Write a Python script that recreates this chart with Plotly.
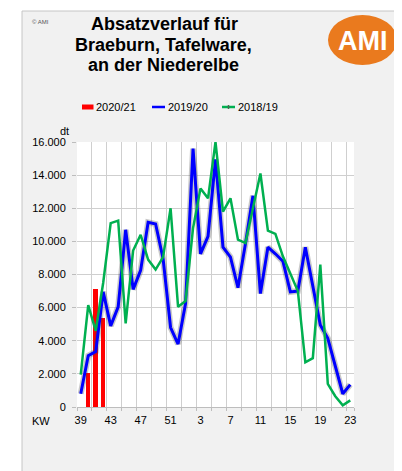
import plotly.graph_objects as go

weeks = [39, 40, 41, 42, 43, 44, 45, 46, 47, 48, 49, 50, 51, 52,
         1, 2, 3, 4, 5, 6, 7, 8, 9, 10, 11, 12, 13, 14, 15, 16, 17, 18, 19, 20, 21, 22, 23]

s2020_21 = [None, 2050, 7100, 5400] + [None] * 33

s2019_20 = [800, 3100, 3350, 6950, 4900, 6050, 10700, 7100, 8250, 11150, 11050, 8950, 4800, 3800,
            6250, 15600, 9250, 10300, 14950, 9650, 9050, 7200, 9850, 12750, 6850, 9650, 9250, 8800,
            6950, 7000, 9650, 7300, 4950, 4150, 2500, 800, 1350]

s2018_19 = [1950, 6150, 4600, 7500, 11100, 11250, 5050, 9450, 10400, 8900, 8300, 9050, 12000, 6050,
            6400, 10800, 13200, 12600, 16000, 11800, 12600, 10100, 9900, 12000, 14100, 10650, 10450, 9100,
            8100, 7000, 2700, 2950, 8600, 1400, 650, 100, 400]

series_names = ["2020/21", "2019/20", "2018/19"]
tick_weeks = [39, 43, 47, 51, 3, 7, 11, 15, 19, 23]

# page has an 8px body margin: figure pixel = page pixel - 8
OFF = 8
W, H = 394, 463
L, R, T, B = 69, 48, 134, 64
PW, PH = W - L - R, H - T - B

def px(x):
    return (x - OFF - L) / PW

def py(y):
    return (H - B - (y - OFF)) / PH

idx = list(range(len(weeks)))
tickvals = [0, 4, 8, 12, 16, 20, 24, 28, 32, 36]
ticktext = [str(weeks[i]) for i in tickvals]

RED, BLUE, GREEN = "#FF0000", "#0000FF", "#00B050"
FONT = "Liberation Sans, Arial, sans-serif"

fig = go.Figure()
fig.add_trace(go.Bar(x=idx, y=s2020_21, name=series_names[0], marker=dict(color=RED, line=dict(width=0)),
                     width=0.6, showlegend=False))
fig.add_trace(go.Scatter(x=idx, y=s2019_20, mode="lines", line=dict(color="rgba(60,60,60,0.28)", width=6),
                         showlegend=False, hoverinfo="skip"))
fig.add_trace(go.Scatter(x=idx, y=s2019_20, mode="lines", name=series_names[1],
                         line=dict(color=BLUE, width=3), showlegend=False))
fig.add_trace(go.Scatter(x=idx, y=s2018_19, mode="lines", name=series_names[2],
                         line=dict(color=GREEN, width=2.5), showlegend=False))

shapes = [
    dict(type="rect", xref="paper", yref="paper", x0=px(22), x1=px(399), y0=py(480), y1=py(11),
         fillcolor="#f1f1f1", line=dict(color="#c6c6c6", width=1), layer="below"),
    dict(type="rect", xref="paper", yref="paper", x0=0, x1=1, y0=0, y1=1,
         fillcolor="white", line=dict(width=0), layer="below"),
    # logo
    dict(type="circle", xref="paper", yref="paper", x0=px(328), x1=px(397), y0=py(65), y1=py(15),
         fillcolor="#EA7A1E", line=dict(width=0)),
    # legend symbols
    dict(type="rect", xref="paper", yref="paper", x0=px(82), x1=px(93.5), y0=py(109.5), y1=py(104.5),
         fillcolor=RED, line=dict(width=0)),
    dict(type="line", xref="paper", yref="paper", x0=px(152), x1=px(165), y0=py(107), y1=py(107),
         line=dict(color=BLUE, width=2.5)),
    dict(type="line", xref="paper", yref="paper", x0=px(222), x1=px(235), y0=py(107), y1=py(107),
         line=dict(color=GREEN, width=2.5)),
    dict(type="line", xref="paper", yref="paper", x0=px(228.5), x1=px(228.5), y0=py(109), y1=py(105),
         line=dict(color="#4a6a50", width=1.5)),
]

def ann(text, x, y, size, color="black", bold=False, xanchor="center", family=FONT):
    return dict(text=("<b>%s</b>" % text) if bold else text, x=px(x), y=py(y), xref="paper", yref="paper",
                showarrow=False, xanchor=xanchor, yanchor="middle",
                font=dict(size=size, color=color, family=family))

annotations = [
    ann("Absatzverlauf für", 164, 24, 18, bold=True),
    ann("Braeburn, Tafelware,", 163, 45, 18, bold=True),
    ann("an der Niederelbe", 163.5, 65.5, 18, bold=True),
    ann("© AMI", 30, 22, 6, color="#555555", xanchor="left"),
    ann("AMI", 362.5, 41, 27, color="white", bold=True),
    ann(series_names[0], 94, 107.5, 11, xanchor="left"),
    ann(series_names[1], 165.5, 107.5, 11, xanchor="left"),
    ann(series_names[2], 235.5, 107.5, 11, xanchor="left"),
    ann("dt", 64, 131, 11),
    ann("KW", 41, 421, 11),
]

grid_color = "#cfcfcf"
minor_vals = [-0.5 + 2 * k for k in range(19)] + [36.5]

fig.update_layout(
    width=W, height=H,
    margin=dict(l=L, r=R, t=T, b=B, pad=0),
    paper_bgcolor="white", plot_bgcolor="white",
    font=dict(family=FONT, size=11, color="black"),
    separators=",.",
    bargap=0,
    shapes=shapes,
    annotations=annotations,
    xaxis=dict(range=[-0.5, 36.5], tickmode="array", tickvals=tickvals, ticktext=ticktext,
               showgrid=False, zeroline=False, ticks="", ticklabelstandoff=3,
               showline=True, linecolor="#bdbdbd", linewidth=1,
               tickfont=dict(size=11, family=FONT),
               minor=dict(tickmode="array", tickvals=minor_vals, showgrid=True, gridcolor=grid_color,
                          gridwidth=1, ticks="outside", ticklen=3, tickcolor="#bdbdbd")),
    yaxis=dict(range=[0, 16000], dtick=2000, tickformat=",d", showgrid=True, gridcolor=grid_color,
               gridwidth=1, zeroline=False, ticks="outside", ticklen=4, tickcolor="#bdbdbd",
               ticklabelstandoff=4, tickfont=dict(size=11, family=FONT), showline=False),
)

fig.write_html("out.html")
